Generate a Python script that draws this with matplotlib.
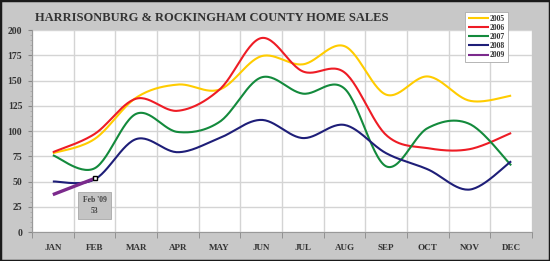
import numpy as np
import matplotlib
matplotlib.use("Agg")
import matplotlib.pyplot as plt
from matplotlib.patches import Rectangle

months = ["JAN", "FEB", "MAR", "APR", "MAY", "JUN", "JUL", "AUG", "SEP", "OCT", "NOV", "DEC"]
sales_2005 = [78, 92, 133, 146, 141, 174, 166, 184, 136, 154, 130, 135]
sales_2006 = [79, 97, 132, 120, 141, 192, 159, 158, 96, 83, 82, 98]
sales_2007 = [76, 63, 117, 99, 109, 153, 137, 142, 65, 103, 107, 66]
sales_2008 = [50, 52, 92, 79, 93, 111, 93, 106, 78, 62, 42, 70]
sales_2009 = [37, 53]
years = ["2005", "2006", "2007", "2008", "2009"]
colors = ["#FFCC00", "#EE1C25", "#138A3C", "#1E1E78", "#7B2A8C"]
yticks = [0, 25, 50, 75, 100, 125, 150, 175, 200]


def smooth(vals, n=30):
    """Excel-style smoothed line (Catmull-Rom Bezier) through the data points."""
    x = np.arange(len(vals), dtype=float)
    y = np.asarray(vals, dtype=float)
    if len(vals) < 3:
        return x, y
    xs, ys = [], []
    m = len(vals)
    for i in range(m - 1):
        p0 = np.array([x[max(i - 1, 0)], y[max(i - 1, 0)]])
        p1 = np.array([x[i], y[i]])
        p2 = np.array([x[i + 1], y[i + 1]])
        p3 = np.array([x[min(i + 2, m - 1)], y[min(i + 2, m - 1)]])
        c1 = p1 + (p2 - p0) / 6.0
        c2 = p2 - (p3 - p1) / 6.0
        t = np.linspace(0, 1, n)[:, None]
        pts = ((1 - t) ** 3) * p1 + 3 * ((1 - t) ** 2) * t * c1 + 3 * (1 - t) * t ** 2 * c2 + t ** 3 * p2
        xs.extend(pts[:, 0])
        ys.extend(pts[:, 1])
    return np.array(xs), np.array(ys)


serif = "Liberation Serif"
fig = plt.figure(figsize=(5.5, 2.61), dpi=100, facecolor="#c8c8c8")
fig.patches.append(Rectangle((0, 0), 1, 1, transform=fig.transFigure, fill=False,
                             edgecolor="#1a1a1a", linewidth=2.5, zorder=10))

ax = fig.add_axes([32 / 550, 29 / 261, 500 / 550, 202 / 261])
ax.set_facecolor("white")
ax.set_xlim(-0.5, 11.5)
ax.set_ylim(0, 200)

series = [sales_2005, sales_2006, sales_2007, sales_2008, sales_2009]
for yr, vals, c in zip(years, series, colors):
    sx, sy = smooth(vals)
    lw = 2.4 if yr == "2009" else 1.5
    ax.plot(sx, sy, color=c, lw=lw, label=yr, solid_capstyle="butt", zorder=3)

# Feb '09 marker and callout
ax.plot([1], [sales_2009[1]], marker="s", ms=3.5, mfc="white", mec="black", mew=1.0, zorder=5)
ax.text(1, 26.5, "Feb '09\n53", ha="center", va="center", fontsize=5.5, family=serif,
        fontweight="bold", color="#444444", linespacing=1.5,
        bbox=dict(boxstyle="square,pad=0.55", fc="#c4c4c4", ec="#a8a8a8", lw=0.6), zorder=4)

ax.set_xticks(range(12))
ax.set_xticklabels(months)
ax.set_xticks(np.arange(-0.5, 12, 1), minor=True)
ax.set_yticks(yticks)
ax.set_yticks(np.arange(0, 201, 5), minor=True)
ax.tick_params(axis="x", which="major", length=0, pad=9)
ax.tick_params(axis="x", which="minor", length=4, color="#888888", direction="out")
ax.tick_params(axis="y", which="major", length=3, color="#888888", pad=4)
ax.tick_params(axis="y", which="minor", length=1.5, color="#aaaaaa")
for lab in ax.get_xticklabels():
    lab.set_fontfamily(serif)
    lab.set_fontweight("bold")
    lab.set_fontsize(6.5)
    lab.set_color("#333333")
for lab in ax.get_yticklabels():
    lab.set_fontfamily(serif)
    lab.set_fontweight("bold")
    lab.set_fontsize(7)
    lab.set_color("#333333")

ax.grid(True, which="minor", axis="x", color="#d4d4d4", lw=1.0)
ax.grid(True, which="major", axis="y", color="#d4d4d4", lw=1.0)
ax.set_axisbelow(True)
for s in ["top", "right"]:
    ax.spines[s].set_visible(False)
for s in ["left", "bottom"]:
    ax.spines[s].set_color("#999999")
    ax.spines[s].set_linewidth(0.8)

fig.text(35 / 550, 1 - 18 / 261, "HARRISONBURG & ROCKINGHAM COUNTY HOME SALES", ha="left", va="center",
         fontsize=9, family=serif, fontweight="bold", color="#333333")

leg = fig.legend(loc="upper left", bbox_to_anchor=(465 / 550, 1 - 12 / 261), frameon=True,
                 fancybox=False, edgecolor="#aaaaaa", facecolor="white", framealpha=1,
                 prop=dict(family=serif, weight="bold", size=5.5), handlelength=2.8,
                 handletextpad=0.1, labelspacing=0.15, borderpad=0.35, borderaxespad=0)
leg.get_frame().set_linewidth(0.6)
for line in leg.get_lines():
    line.set_linewidth(1.5)
for t in leg.get_texts():
    t.set_color("#333333")

fig.savefig("out.png", dpi=100, facecolor=fig.get_facecolor())
